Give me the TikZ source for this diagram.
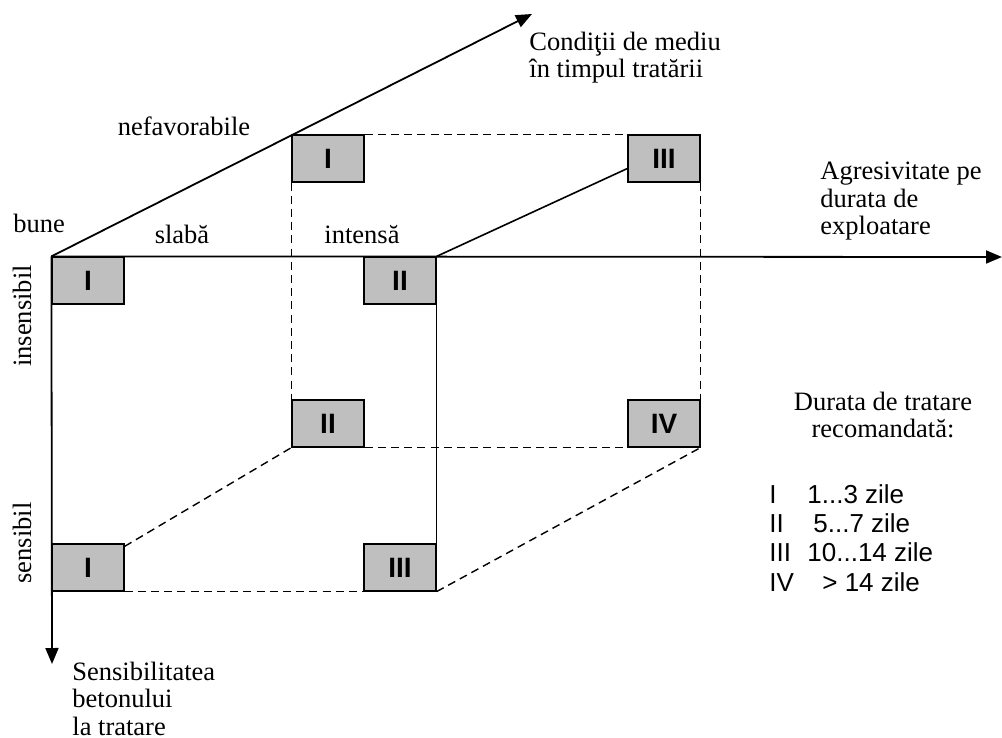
\documentclass[tikz,border=0pt]{standalone}
\usepackage{fontspec}
\setmainfont{Liberation Serif}
\newfontfamily\arialfont{Liberation Sans}
\usetikzlibrary{arrows.meta,calc}

\begin{document}
\begin{tikzpicture}[x=0.5pt,y=-0.5pt,
    zone/.style={draw=black,fill=black!25,line width=0.6pt,minimum width=36pt,minimum height=23.5pt,inner sep=0pt,font=\arialfont\bfseries\fontsize{14}{14}\selectfont},
    axis/.style={line width=0.9pt,-{Triangle[length=8pt,width=6.5pt]}},
    edge/.style={line width=0.8pt},
    guide/.style={line width=0.7pt,dash pattern=on 4pt off 2.6pt},
    lbl/.style={inner sep=0pt,font=\fontsize{13.25}{13.6}\selectfont,align=left},
    leg/.style={inner sep=0pt,anchor=base west,font=\arialfont\fontsize{13}{13}\selectfont}]
  \useasboundingbox (0,0) rectangle (1002,738);
  % zones, front face
  \node[zone] (fI)   at (88,280.5)  {I};
  \node[zone] (fII)  at (400,280.5) {II};
  \node[zone] (fIs)  at (88,567.5)  {I};
  \node[zone] (fIII) at (400,567.5) {III};
  % zones, back face
  \node[zone] (bI)   at (328,158.5) {I};
  \node[zone] (bIII) at (664,158.5) {III};
  \node[zone] (bII)  at (328,423.5) {II};
  \node[zone] (bIV)  at (664,423.5) {IV};
  \coordinate (xend) at (1002,257);
  \coordinate (yend) at (52,664);
  \coordinate (zend) at (532,14);
  % axes
  \draw[axis] (fI.north west) -- (xend);
  \draw[axis] (fI.north west) -- (yend);
  \draw[axis] (fI.north west) -- (zend);
  \draw[edge] (fII.north east) -- ($(bIII.west)+(0,10)$);
  \draw[edge] (fII.south east) -- (fIII.north east);
  %\draw[edge] (fI.south west) -- (fIs.north west);
  \draw[guide] (bI.north east) -- (bIII.north west);
  \draw[guide] (bI.south west) -- (bII.north west);
  \draw[guide] (bIII.south east) -- (bIV.north east);
  \draw[guide] (bII.south east) -- (bIV.south west);
  \draw[guide] ($(fIs.north east)+(0,3)$) -- (bII.south west);
  \draw[guide] (fIs.south east) -- (fIII.south west);
  \draw[guide] (fIII.south east) -- (bIV.south east);
  % axis labels
  \node[lbl,anchor=north west] (cond) at (529,32) {Condiţii de mediu\\în timpul tratării};
  \node[lbl,anchor=base] (nefav) at (184,136) {nefavorabile};
  \node[lbl,anchor=base west] (bune) at (13,233) {bune};
  \node[lbl,anchor=base] (slaba) at (182,243) {slabă};
  \node[lbl,anchor=base] (intensa) at (362,243) {intensă};
  \node[lbl,anchor=north west] (agres) at (820,162) {Agresivitate pe\\durata de\\exploatare};
  \node[lbl,rotate=90] (insens) at (22,316) {insensibil};
  \node[lbl,rotate=90] (sens) at (22,543) {sensibil};
  \node[lbl,anchor=north west] (sensib) at (72,662) {Sensibilitatea\\betonului\\la tratare};
  % legend
  \node[lbl,align=center,anchor=north] (legtitle) at (883,392) {Durata de tratare\\recomandată:};
  \node[leg] (l1) at (769,503) {I};
  \node[leg] (v1) at (807,503) {1...3 zile};
  \node[leg] (l2) at (769,532) {II};
  \node[leg] (v2) at (813,532) {5...7 zile};
  \node[leg] (l3) at (769,561) {III};
  \node[leg] (v3) at (807,561) {10...14 zile};
  \node[leg] (l4) at (769,591) {IV};
  \node[leg] (v4) at (822,591) {> 14 zile};
\end{tikzpicture}
\end{document}
